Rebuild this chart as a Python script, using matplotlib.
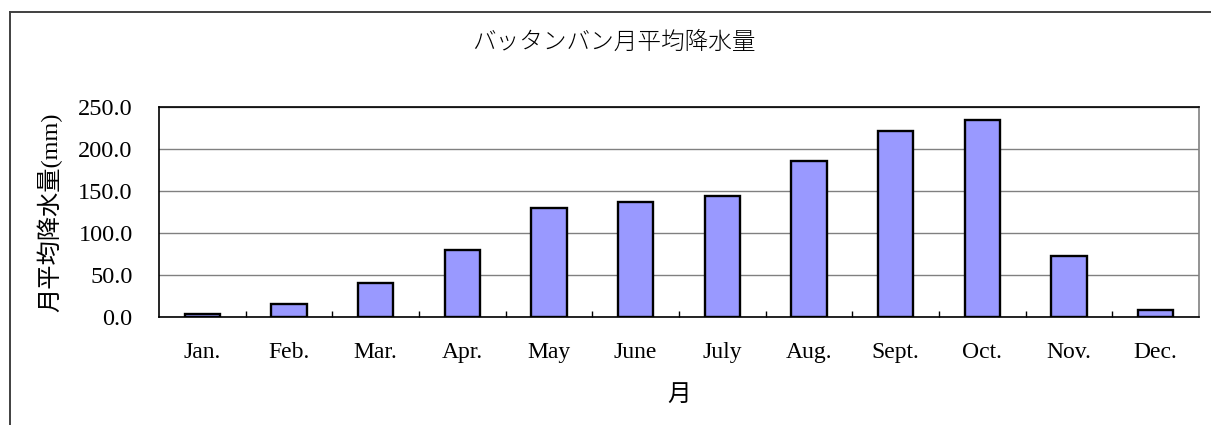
import matplotlib
matplotlib.use("Agg")
import matplotlib.pyplot as plt
from matplotlib.lines import Line2D
import numpy as np

months = ["Jan.", "Feb.", "Mar.", "Apr.", "May", "June",
          "July", "Aug.", "Sept.", "Oct.", "Nov.", "Dec."]
rainfall = [4, 16, 40, 79, 129, 136, 144, 185, 221, 234, 73, 8]
yticks = [0, 50, 100, 150, 200, 250]

plt.rcParams['font.family'] = ['Liberation Serif', 'Noto Sans CJK JP']
fs = 17

fig = plt.figure(figsize=(12.11, 4.25), dpi=100)
ax = fig.add_axes([0.1313, 0.2541, 0.8588, 0.4953])

x = np.arange(len(months))
ax.bar(x, rainfall, width=0.41, color="#9999ff", edgecolor="black",
       linewidth=1.7, zorder=3)

ax.set_xlim(-0.5, len(months) - 0.5)
ax.set_ylim(0, 250)
ax.set_yticks(yticks)
ax.set_yticklabels([f"{v:.1f}" for v in yticks], fontsize=fs + 0.5)
ax.yaxis.grid(True, color="#808080", linewidth=1.0, zorder=0)
ax.tick_params(axis="y", length=0, pad=19)

ax.set_xticks(x)
ax.set_xticklabels(months, fontsize=fs)
ax.set_xticks(x[:-1] + 0.5, minor=True)
ax.tick_params(axis="x", which="major", length=0, pad=18)
ax.tick_params(axis="x", which="minor", direction="in", length=4, width=1)

for s in ax.spines.values():
    s.set_color("black")
    s.set_linewidth(1.2)
ax.spines["right"].set_color("#808080")

ax.set_xlabel("月", fontsize=fs, family=['Noto Sans CJK JP'], labelpad=14)
ax.set_ylabel("月平均降水量(mm)", fontsize=fs + 0.5, labelpad=11)
fig.text(0.507, 0.90, "バッタンバン月平均降水量", fontsize=fs,
         family=['Noto Sans CJK JP'], fontweight='light', ha="center", va="center")

# outer chart frame (cropped on right and bottom)
fig.add_artist(Line2D([0.0085, 1.0], [0.9718, 0.9718], transform=fig.transFigure,
                      color="#404040", linewidth=1.4))
fig.add_artist(Line2D([0.0085, 0.0085], [0.0, 0.9718], transform=fig.transFigure,
                      color="#404040", linewidth=1.4))

fig.savefig("out.png", dpi=100)
